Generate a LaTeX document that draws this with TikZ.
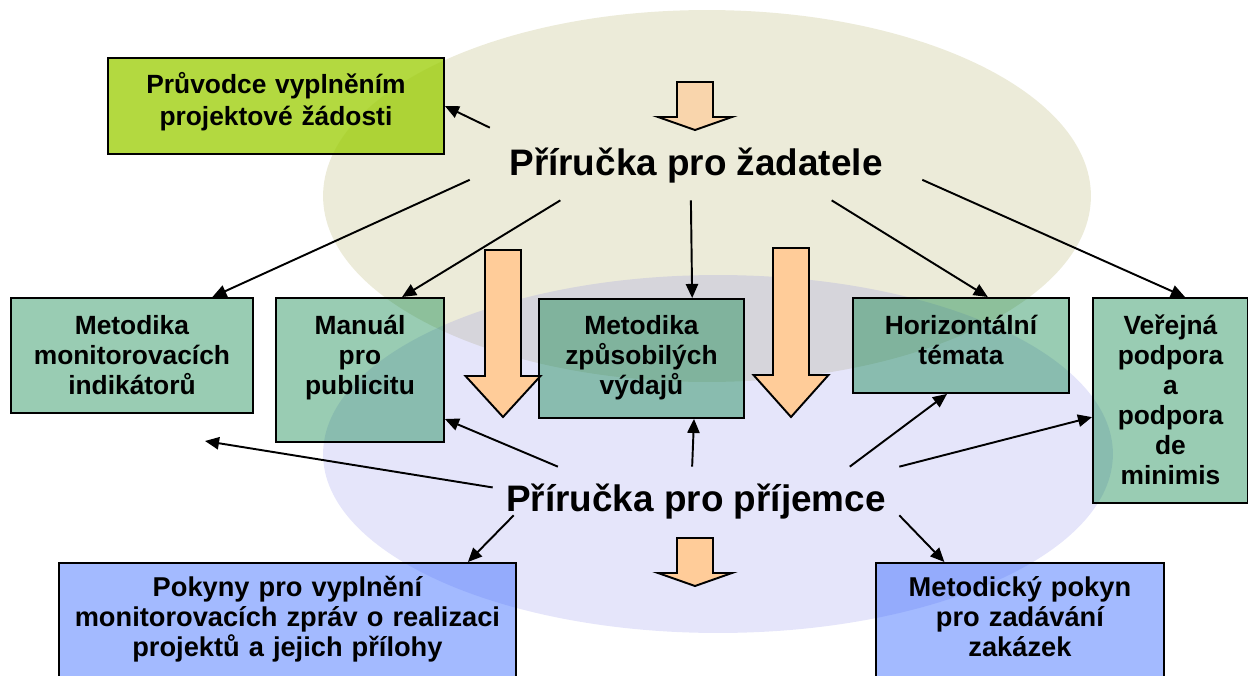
\documentclass[tikz,border=0pt]{standalone}
\usepackage{fontspec}
\setmainfont{Liberation Sans}
\usepackage{xcolor}
\usepackage{tikz}
\usetikzlibrary{arrows.meta}

\definecolor{zadbg}{RGB}{236,235,217}
\definecolor{pribg}{RGB}{126,126,231}
\definecolor{boxgreen}{RGB}{0,128,64}
\definecolor{boxlime}{RGB}{153,204,0}
\definecolor{boxblue}{RGB}{51,102,255}
\definecolor{fatorange}{RGB}{255,204,153}

\tikzset{
  box/.style={draw=black, line width=1.1pt, anchor=north west, align=center,
    inner xsep=0pt, inner ysep=0pt, text height=0.74cm, text opacity=1,
    font=\fontsize{15}{17}\selectfont\bfseries},
  gbox/.style={box, fill=boxgreen, fill opacity=0.4},
  lbox/.style={box, fill=boxlime, fill opacity=0.75},
  bbox/.style={box, fill=boxblue, fill opacity=0.45, text height=0.68cm,
    font=\fontsize{15.5}{17}\selectfont\bfseries},
  title/.style={inner sep=0pt, text depth=0pt,
    font=\fontsize{21}{25}\selectfont\bfseries},
  link/.style={-{Triangle[length=8pt,width=7pt]}, line width=1.1pt},
  fat/.style={draw=black, line width=1.1pt, fill=fatorange}
}

\begin{document}
\begin{tikzpicture}[x=0.02cm, y=-0.02cm]
\path[use as bounding box, clip] (0,0) rectangle (1248,676);
\fill[zadbg] (707,196) ellipse [x radius=7.68cm, y radius=3.72cm];
\fill[pribg, fill opacity=0.2] (718,454) ellipse [x radius=7.9cm, y radius=3.58cm];

\node[lbox, text width=6.72cm, text height=0.72cm, text depth=1.2cm, font=\fontsize{15}{18}\selectfont\bfseries] (pru) at (107,57) {Průvodce vyplněním\\projektové žádosti};
\node[gbox, text width=4.84cm, text depth=1.56cm] (mmi) at (10,297) {Metodika\\monitorovacích\\indikátorů};
\node[gbox, text width=3.36cm, text depth=2.14cm] (man) at (275,297) {Manuál\\pro\\publicitu};
\node[gbox, text width=4.1cm, text height=0.72cm, text depth=1.66cm] (mzv) at (538,298) {Metodika\\způsobilých\\výdajů};
\node[gbox, text width=4.32cm, text depth=1.16cm] (hor) at (852,297) {Horizontální\\témata};
\node[gbox, text width=3.1cm, text depth=3.36cm] (ver) at (1092,297) {Veřejná\\podpora\\a\\podpora\\de\\minimis};
\node[bbox, text width=9.14cm, text depth=2.2cm] (pok) at (58,562) {Pokyny pro vyplnění\\monitorovacích zpráv o realizaci\\projektů a jejich přílohy};
\node[bbox, text width=5.76cm, text depth=2.2cm] (mpk) at (875,562) {Metodický pokyn\\pro zadávání\\zakázek};

\node[title, minimum width=9.04cm, minimum height=1.44cm, text height=0.48cm] (zad) at (696,164) {Příručka pro žadatele};
\node[title, minimum width=8.12cm, minimum height=0.96cm, text height=0.8cm] (pri) at (696,491) {Příručka pro příjemce};
\coordinate (mmilow) at (205,441);

\foreach \cx/\ty/\hy/\py in {503/250/376/417, 791/248/375/417}{
	\draw[fat] (\cx-18,\ty) -- (\cx+18,\ty) -- (\cx+18,\hy) -- (\cx+37.5,\hy) -- (\cx,\py) -- (\cx-37.5,\hy) -- (\cx-18,\hy) -- cycle;
}
\draw[fat, fill opacity=0.7] (677,82) -- (713,82) -- (713,117) -- (732,117) -- (695,130) -- (658,117) -- (677,117) -- cycle;
\draw[fat] (677,538) -- (713,538) -- (713,573) -- (732,573) -- (695,586) -- (658,573) -- (677,573) -- cycle;

\draw[link] (zad.170) -- (pru.east);
\draw[link] (zad.184) -- (mmi.36.8);
\draw[link] (zad.195) -- (man.60.3);
\draw[link] (zad.262) -- (mzv.50);
\draw[link] (zad.345) -- (hor.61.3);
\draw[link] (zad.356) -- (ver.82);

\draw[link] (pri.179) -- (mmilow);
\draw[link] (pri.170) -- (man.330);
\draw[link] (pri.99) -- (mzv.311);
\draw[link] (pri.9) -- (hor.254.5);
\draw[link] (pri.north east) -- (ver.192.4);
\draw[link] ([xshift=0.42cm]pri.south west) -- ([xshift=8.2cm]pok.north west);
\draw[link] (pri.south east) -- (mpk.136.5);
\end{tikzpicture}
\end{document}
